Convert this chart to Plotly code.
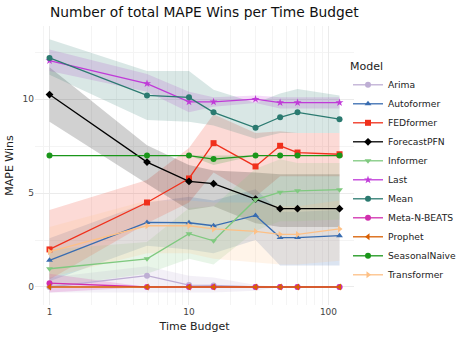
import plotly.graph_objects as go

# time budgets (x) and per-model mean wins with band bounds
budgets = [1, 5, 10, 15, 30, 45, 60, 120]

models = ["Arima", "Autoformer", "FEDformer", "ForecastPFN", "Informer", "Last",
          "Mean", "Meta-N-BEATS", "Prophet", "SeasonalNaive", "Transformer"]

arima = [0.0, 0.6, 0.1, 0.08, 0.0, 0.0, 0.0, 0.0]
arima_lo = [-0.3, -0.3, -0.3, -0.3, -0.2, 0.0, 0.0, 0.0]
arima_hi = [0.5, 1.1, 0.6, 0.5, 0.1, 0.0, 0.0, 0.0]

autoformer = [1.42, 3.44, 3.42, 3.26, 3.81, 2.63, 2.63, 2.73]
autoformer_lo = [0.3, 2.2, 2.0, 1.8, 2.5, 1.15, 1.15, 1.15]
autoformer_hi = [2.6, 4.5, 4.8, 4.6, 5.2, 4.0, 4.0, 4.1]

fedformer = [2.0, 4.5, 5.78, 7.66, 6.42, 7.52, 7.16, 7.07]
fedformer_lo = [0.4, 3.4, 4.5, 6.1, 4.8, 5.9, 5.9, 5.9]
fedformer_hi = [4.1, 5.7, 7.4, 9.2, 8.2, 8.3, 8.2, 8.2]

forecastpfn = [10.25, 6.65, 5.62, 5.5, 4.68, 4.17, 4.17, 4.17]
forecastpfn_lo = [8.8, 5.5, 4.1, 4.3, 3.4, 3.2, 3.2, 3.2]
forecastpfn_hi = [11.7, 7.55, 6.5, 6.2, 6.1, 6.0, 6.0, 6.0]

informer = [0.97, 1.5, 2.84, 2.46, 4.65, 5.05, 5.12, 5.18]
informer_lo = [0.0, 0.7, 1.5, 1.2, 3.0, 3.5, 3.5, 3.6]
informer_hi = [2.0, 2.4, 4.2, 4.3, 6.3, 6.8, 6.6, 6.6]

last = [12.06, 10.83, 9.86, 9.86, 10.0, 9.82, 9.82, 9.82]
last_lo = [11.5, 10.4, 9.3, 9.6, 9.8, 9.5, 9.5, 9.5]
last_hi = [12.65, 11.35, 10.4, 10.1, 10.2, 10.1, 10.1, 10.1]

mean = [12.2, 10.2, 10.1, 9.3, 8.48, 9.04, 9.3, 8.94]
mean_lo = [11.3, 8.9, 8.8, 8.6, 7.9, 8.2, 8.2, 8.2]
mean_hi = [13.2, 11.5, 11.5, 10.5, 9.8, 10.3, 10.55, 10.2]

metanbeats = [0.2, 0.0, 0.0, 0.0, 0.0, 0.0, 0.0, 0.0]
metanbeats_lo = [-0.3, 0.0, 0.0, 0.0, 0.0, 0.0, 0.0, 0.0]
metanbeats_hi = [0.7, 0.0, 0.0, 0.0, 0.0, 0.0, 0.0, 0.0]

prophet = [0.0, 0.0, 0.0, 0.0, 0.0, 0.0, 0.0, 0.0]

seasonalnaive = [7.0, 7.0, 7.0, 6.81, 7.0, 7.0, 7.0, 7.0]
seasonalnaive_lo = [7.0, 7.0, 7.0, 6.5, 7.0, 7.0, 7.0, 7.0]
seasonalnaive_hi = [7.0, 7.0, 7.0, 7.0, 7.0, 7.0, 7.0, 7.0]

transformer = [1.88, 3.26, 3.26, 3.09, 2.96, 2.80, 2.80, 3.09]
transformer_lo = [0.5, 1.8, 1.8, 1.5, 1.3, 1.2, 1.2, 1.4]
transformer_hi = [3.2, 4.6, 4.6, 4.5, 4.5, 4.3, 4.3, 4.6]

series = {
    "Arima": (arima, arima_lo, arima_hi),
    "Autoformer": (autoformer, autoformer_lo, autoformer_hi),
    "FEDformer": (fedformer, fedformer_lo, fedformer_hi),
    "ForecastPFN": (forecastpfn, forecastpfn_lo, forecastpfn_hi),
    "Informer": (informer, informer_lo, informer_hi),
    "Last": (last, last_lo, last_hi),
    "Mean": (mean, mean_lo, mean_hi),
    "Meta-N-BEATS": (metanbeats, metanbeats_lo, metanbeats_hi),
    "Prophet": (prophet, prophet, prophet),
    "SeasonalNaive": (seasonalnaive, seasonalnaive_lo, seasonalnaive_hi),
    "Transformer": (transformer, transformer_lo, transformer_hi),
}

# ── Style ───────────────────────────────────────────────────────────────────
STYLE = {
    "Arima": ("#beaed4", "circle"),
    "Autoformer": ("#386cb0", "triangle-up"),
    "FEDformer": ("#f0301c", "square"),
    "ForecastPFN": ("#000000", "diamond"),
    "Informer": ("#7fc97f", "triangle-down"),
    "Last": ("#c03ad8", "star"),
    "Mean": ("#2b7a70", "circle"),
    "Meta-N-BEATS": ("#d12fae", "circle"),
    "Prophet": ("#d95f02", "triangle-left"),
    "SeasonalNaive": ("#1a961a", "circle"),
    "Transformer": ("#fdc086", "triangle-right"),
}

# minor gridlines at 0.9, 2..9, 20..90 (ggplot-ish log minor breaks)
MINOR_X = [0.9] + [d * 10 ** e for e in (0, 1) for d in range(2, 10)]

L, R, T, B = 35, 103, 26, 38
W, H = 457, 343


def _rgba(hex_color, alpha):
    h = hex_color.lstrip("#")
    r, g, b = int(h[0:2], 16), int(h[2:4], 16), int(h[4:6], 16)
    return f"rgba({r},{g},{b},{alpha})"


fig = go.Figure()

# bands first so lines sit on top
for name in models:
    vals, lo, hi = series[name]
    color, _ = STYLE[name]
    fig.add_trace(go.Scatter(
        x=budgets + budgets[::-1], y=hi + lo[::-1],
        fill="toself", fillcolor=_rgba(color, 0.18),
        line=dict(width=0), mode="lines",
        hoverinfo="skip", showlegend=False,
    ))

for name in models:
    vals, lo, hi = series[name]
    color, symbol = STYLE[name]
    fig.add_trace(go.Scatter(
        x=budgets, y=vals, mode="lines+markers", name=name,
        line=dict(color=color, width=1.3),
        marker=dict(color=color, symbol=symbol, size=6),
    ))

pw, ph = W - L - R, H - T - B
fig.update_layout(
    width=W, height=H,
    template="plotly_white",
    font=dict(family="DejaVu Sans", color="#222222"),
    title=dict(text="Number of total MAPE Wins per Time Budget",
               x=50 / W, xanchor="left", xref="container",
               y=1 - 12 / H, yanchor="middle", yref="container",
               font=dict(size=13.8, color="#111111")),
    margin=dict(l=L, r=R, t=T, b=B, pad=0, autoexpand=False),
    plot_bgcolor="white",
    legend=dict(
        title=dict(text="Model", font=dict(size=11)),
        font=dict(size=9.2),
        x=(348 - L) / pw, xanchor="left", y=1 - (56 - T) / ph, yanchor="top",
        tracegroupgap=0, itemwidth=30, bgcolor="rgba(0,0,0,0)",
    ),
    xaxis=dict(
        type="log", range=[-0.104, 2.183], automargin=False,
        title=dict(text="Time Budget", font=dict(size=11), standoff=6),
        tickvals=[1, 10, 100], ticktext=["1", "10", "100"],
        tickfont=dict(size=9, color="#444444"),
        showline=False, zeroline=False, ticks="",
        gridcolor="#ebebeb", gridwidth=1,
        minor=dict(showgrid=True, gridcolor="#f4f4f4", gridwidth=1,
                   tickmode="array", tickvals=MINOR_X),
    ),
    yaxis=dict(
        range=[-0.96, 13.9], automargin=False,
        title=dict(text="MAPE Wins", font=dict(size=11), standoff=6),
        tickvals=[0, 5, 10], ticktext=["0", "5", "10"],
        tickfont=dict(size=9, color="#444444"),
        showline=False, zeroline=False, ticks="",
        gridcolor="#ebebeb", gridwidth=1,
        minor=dict(showgrid=True, gridcolor="#f4f4f4", gridwidth=1,
                   tickmode="array", tickvals=[2.5, 7.5, 12.5]),
    ),
)

# the page's default body margin would shift the figure 8px; drop it
fig.write_html("out.html", config={"displayModeBar": False},
               post_script="document.body.style.margin='0';")
